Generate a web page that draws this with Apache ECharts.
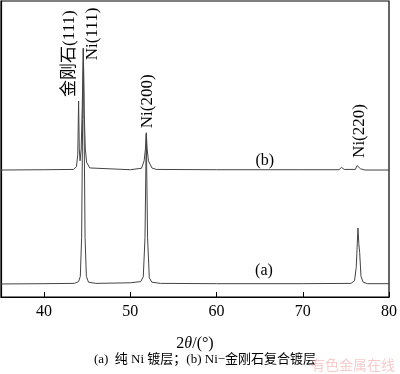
<!DOCTYPE html>
<html><head><meta charset="utf-8">
<script src="https://cdn.jsdelivr.net/npm/echarts@6/dist/echarts.min.js"></script>
<style>html,body{margin:0;padding:0;background:#fff}#c{width:400px;height:374px}</style>
</head><body><div id="c"></div>
<script>
// 2θ (degrees) and intensity (a.u.)
const seriesA = [
  [35,4.4],[40,4.5],[43.5,4.6],[44.0,5.2],[44.2,7],[44.35,20],[44.47,60],[44.55,84],[44.63,60],[44.75,20],[44.9,7],[45.15,5.0],[46,4.6],
  [50,4.8],[51.2,5.2],[51.5,6.8],[51.7,20],[51.85,55],[52.0,20],[52.2,6.5],[52.5,5.0],[53.5,4.6],
  [60,4.5],[70,4.5],[75.6,4.6],[76.0,5.5],[76.2,10],[76.4,23.3],[76.5,18],[76.6,15],[76.75,7],[77,5],[77.5,4.5],[80,4.5]
];
const seriesB = [
  [35,42.9],[40,43],[43.4,43.1],[43.75,44],[43.9,48],[44.0,66.2],[44.08,50],[44.17,46],[44.3,50],[44.42,64],[44.55,84],[44.65,62],[44.78,50],[44.93,45.5],[45.3,43.6],
  [50,43],[51.3,43.5],[51.6,46],[51.75,50],[51.85,55.5],[51.95,50],[52.1,46],[52.5,43.6],[53,43.1],
  [60,43],[70,43],[74.2,43],[74.5,43.8],[74.8,43.1],[76.1,43.1],[76.3,44.4],[76.45,45],[76.7,43.3],[77.2,42.9],[80,42.9]
];
const xTicks = [40,50,60,70,80];
const peakLabels = ['金刚石(111)','Ni(111)','Ni(200)','Ni(220)'];
const peakLabelAt = [[43.0,67.6],[45.6,80],[52.0,57],[76.6,47]];
const curveLabels = ['(a)','(b)'];
const curveLabelAt = [[65.5,8.8],[65.6,46]];

const serif = '"Liberation Serif","Times New Roman","Noto Sans CJK SC",serif';
const chart = echarts.init(document.getElementById('c'));
chart.setOption({
  animation:false,
  backgroundColor:'#fff',
  grid:{left:1,right:8,top:1,bottom:77,show:true,borderColor:'#000',borderWidth:1.2},
  xAxis:{type:'value',min:35,max:80,
    axisLine:{onZero:false,lineStyle:{color:'#000',width:1.2}},
    axisTick:{inside:true,length:5,customValues:xTicks,lineStyle:{color:'#000'}},
    axisLabel:{customValues:xTicks,color:'#000',fontFamily:serif,fontSize:16,margin:7},
    splitLine:{show:false},
    name:'{n|2}{t|θ}{n|/(°)}',nameLocation:'middle',nameGap:39,
    nameTextStyle:{rich:{n:{fontFamily:serif,fontSize:16,color:'#000'},t:{fontFamily:serif,fontSize:16,fontStyle:'italic',color:'#000'}}}
  },
  yAxis:{type:'value',min:0,max:100,show:true,axisLine:{show:true,lineStyle:{color:'#000',width:1.2}},axisTick:{show:false},axisLabel:{show:false},splitLine:{show:false}},
  series:[
    {type:'line',data:seriesA,showSymbol:false,lineStyle:{color:'#444',width:1},clip:true},
    {type:'line',data:seriesB,showSymbol:false,lineStyle:{color:'#444',width:1},clip:true}
  ]
});
const g = [];
peakLabels.forEach((t,i)=>{
  const p = chart.convertToPixel({gridIndex:0}, peakLabelAt[i]);
  g.push({type:'text',x:p[0],y:p[1],rotation:Math.PI/2,
    style:{text:t,font:'17px '+serif,fill:'#000',align:'left',verticalAlign:'middle'}});
});
curveLabels.forEach((t,i)=>{
  const p = chart.convertToPixel({gridIndex:0}, curveLabelAt[i]);
  g.push({type:'text',x:p[0],y:p[1],style:{text:t,font:'16px '+serif,fill:'#000',align:'center',verticalAlign:'middle'}});
});
g.push({type:'text',x:205,y:360,style:{text:'(a)  纯 Ni 镀层；(b) Ni−金刚石复合镀层',font:'13px '+serif,fill:'#000',align:'center',verticalAlign:'middle'}});
g.push({type:'text',x:395,y:365,style:{text:'有色金属在线',font:'14px "Noto Sans CJK SC",sans-serif',fill:'rgba(235,140,140,0.45)',align:'right',verticalAlign:'middle'}});
chart.setOption({graphic:g});
</script></body></html>
